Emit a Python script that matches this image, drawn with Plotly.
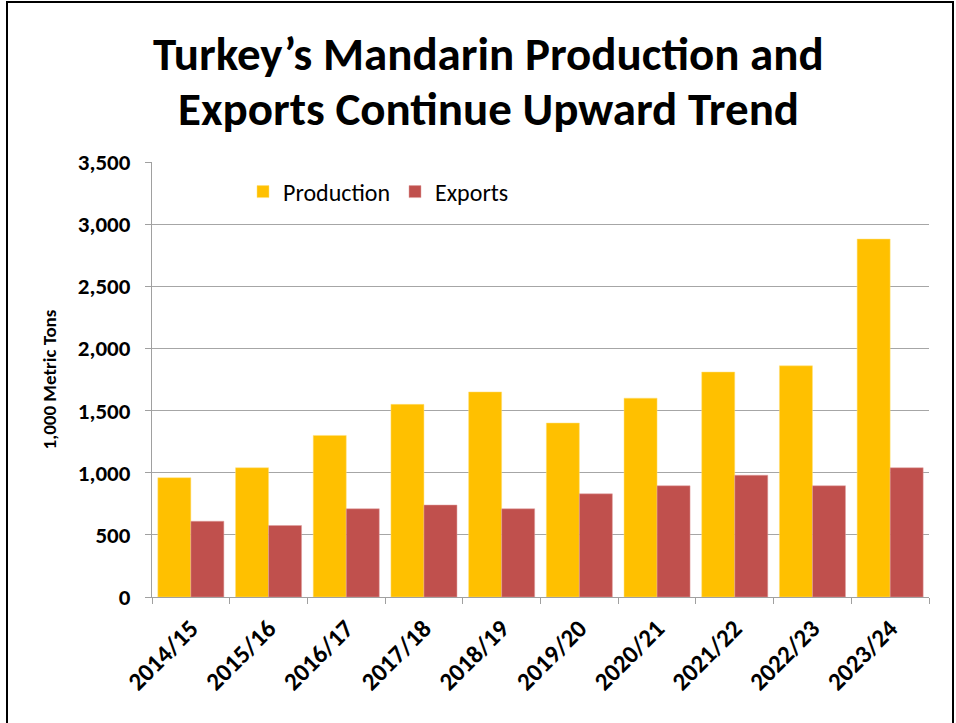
import plotly.graph_objects as go

years = ["2014/15", "2015/16", "2016/17", "2017/18", "2018/19",
         "2019/20", "2020/21", "2021/22", "2022/23", "2023/24"]
production = [960, 1040, 1300, 1550, 1650, 1400, 1600, 1810, 1860, 2880]
exports = [610, 575, 710, 740, 710, 830, 895, 980, 895, 1040]
title_lines = ["Turkey’s Mandarin Production and", "Exports Continue Upward Trend"]

FONT = "Carlito, Lato, 'Open Sans', sans-serif"

fig = go.Figure()
fig.add_trace(go.Bar(x=years, y=production, name="Production",
                     marker=dict(color="#FFC000", line=dict(color="#FFE07A", width=0.5))))
fig.add_trace(go.Bar(x=years, y=exports, name="Exports",
                     marker=dict(color="#C0504D", line=dict(color="#E0A0A0", width=0.5))))

L, R, T, B = 152, 27, 162, 126
W, H = 956, 723
pw, ph = W - L - R, H - T - B

def px(x):
    return (x - L) / pw

def py(y):
    return (H - B - y) / ph

annotations = []
for line, ypix in zip(title_lines, [54, 109]):
    annotations.append(dict(text=line, xref="paper", yref="paper",
                            x=px(488), y=py(ypix), xanchor="center", yanchor="middle",
                            showarrow=False,
                            font=dict(size=47, family=FONT, color="black", weight="bold")))

fig.update_layout(
    width=W, height=H,
    margin=dict(l=L, r=R, t=T, b=B),
    paper_bgcolor="white", plot_bgcolor="white",
    barmode="group", bargap=0.15, bargroupgap=0,
    font=dict(family=FONT, color="black"),
    showlegend=True,
    legend=dict(orientation="h", x=px(243), y=py(192), xanchor="left", yanchor="middle",
                font=dict(size=24, family=FONT), bgcolor="rgba(0,0,0,0)",
                entrywidth=107, entrywidthmode="pixels", traceorder="normal"),
    annotations=annotations,
    xaxis=dict(type="category", tickangle=-45,
               tickfont=dict(size=25, family=FONT, weight="bold"),
               showline=True, linecolor="#A0A0A0", linewidth=1,
               ticks="outside", tickson="boundaries", ticklen=6, tickcolor="#A0A0A0",
               ticklabelstandoff=6, showgrid=False),
    yaxis=dict(range=[0, 3500], dtick=500, tickformat=",d",
               tickfont=dict(size=23, family=FONT, weight="bold"),
               showgrid=True, gridcolor="#A6A6A6", gridwidth=1,
               showline=True, linecolor="#A0A0A0", linewidth=1,
               ticks="outside", ticklen=6, tickcolor="#A0A0A0",
               ticklabelstandoff=10, zeroline=False,
               title=dict(text="1,000 Metric Tons",
                          font=dict(size=19, family=FONT, weight="bold"),
                          standoff=16)),
    shapes=[dict(type="rect", xref="paper", yref="paper",
                 x0=px(7), x1=px(953), y0=py(740), y1=py(2),
                 line=dict(color="black", width=2), fillcolor="rgba(0,0,0,0)", layer="below")],
)

fig.write_html("out.html")
